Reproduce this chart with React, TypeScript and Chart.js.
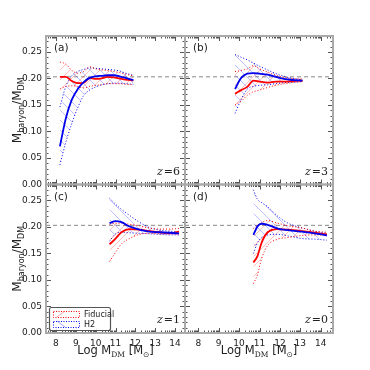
import { useEffect, useRef } from "react";
import { Chart, registerables } from "chart.js";
Chart.register(...registerables);

// ---------- data ----------
const BARYON_FRACTION = 0.203;
const LEGEND_LABELS = ["Fiducial", "H2"];
const X_TICKS = [8, 9, 10, 11, 12, 13, 14];
const Y_TICKS = [0, 0.05, 0.1, 0.15, 0.2, 0.25];

// panel (a) z=6
const A_X = [8.2, 8.5, 8.8, 9.1, 9.4, 9.7, 10.0, 10.3, 10.6, 10.9, 11.2, 11.5, 11.9];
const A_RED_MED = [0.203, 0.203, 0.195, 0.191, 0.192, 0.201, 0.199, 0.2, 0.203, 0.202, 0.2, 0.198, 0.196];
const A_RED_UP = [0.231, 0.227, 0.215, 0.21, 0.213, 0.222, 0.218, 0.216, 0.215, 0.213, 0.211, 0.208, 0.205];
const A_RED_LO = [0.18, 0.185, 0.186, 0.185, 0.182, 0.185, 0.187, 0.188, 0.19, 0.19, 0.19, 0.189, 0.188];
const A_BLUE_MED = [0.072, 0.125, 0.16, 0.18, 0.193, 0.201, 0.204, 0.205, 0.206, 0.206, 0.204, 0.201, 0.197];
const A_BLUE_UP = [0.146, 0.185, 0.205, 0.213, 0.217, 0.22, 0.219, 0.218, 0.217, 0.216, 0.214, 0.21, 0.206];
const A_BLUE_LO = [0.037, 0.08, 0.115, 0.145, 0.168, 0.178, 0.184, 0.188, 0.19, 0.191, 0.191, 0.19, 0.189];

// panel (b) z=3
const B_X = [9.8, 10.1, 10.4, 10.7, 11.0, 11.4, 11.8, 12.2, 12.6, 13.1];
const B_RED_MED = [0.171, 0.178, 0.184, 0.196, 0.194, 0.192, 0.194, 0.194, 0.195, 0.196];
const B_RED_UP = [0.213, 0.215, 0.218, 0.224, 0.218, 0.212, 0.206, 0.202, 0.2, 0.199];
const B_RED_LO = [0.15, 0.157, 0.168, 0.175, 0.178, 0.183, 0.187, 0.19, 0.192, 0.194];
const B_BLUE_MED = [0.18, 0.201, 0.209, 0.21, 0.209, 0.207, 0.203, 0.199, 0.197, 0.196];
const B_BLUE_UP = [0.245, 0.24, 0.235, 0.229, 0.223, 0.216, 0.209, 0.204, 0.2, 0.197];
const B_BLUE_LO = [0.134, 0.16, 0.18, 0.185, 0.187, 0.188, 0.19, 0.192, 0.193, 0.194];

// panel (c) z=1
const C_X = [10.7, 11.0, 11.3, 11.7, 12.2, 12.7, 13.2, 13.7, 14.2];
const C_RED_MED = [0.167, 0.178, 0.19, 0.196, 0.195, 0.192, 0.19, 0.188, 0.191];
const C_RED_UP = [0.205, 0.207, 0.207, 0.205, 0.202, 0.198, 0.196, 0.196, 0.197];
const C_RED_LO = [0.135, 0.152, 0.168, 0.178, 0.186, 0.188, 0.187, 0.187, 0.186];
const C_BLUE_MED = [0.207, 0.211, 0.209, 0.201, 0.195, 0.191, 0.19, 0.189, 0.188];
const C_BLUE_UP = [0.254, 0.243, 0.233, 0.222, 0.209, 0.199, 0.194, 0.192, 0.191];
const C_BLUE_LO = [0.173, 0.187, 0.19, 0.189, 0.188, 0.187, 0.186, 0.185, 0.185];

// panel (d) z=0
const D_X = [10.7, 10.9, 11.1, 11.4, 11.9, 12.4, 13.1, 13.7, 14.3];
const D_RED_MED = [0.133, 0.145, 0.17, 0.19, 0.196, 0.195, 0.192, 0.189, 0.186];
const D_RED_UP = [0.197, 0.203, 0.208, 0.212, 0.207, 0.202, 0.198, 0.192, 0.19];
const D_RED_LO = [0.093, 0.11, 0.14, 0.165, 0.177, 0.18, 0.184, 0.185, 0.185];
const D_BLUE_MED = [0.185, 0.201, 0.206, 0.204, 0.197, 0.194, 0.191, 0.188, 0.184];
const D_BLUE_UP = [0.27, 0.252, 0.246, 0.238, 0.22, 0.207, 0.198, 0.192, 0.188];
const D_BLUE_LO = [0.15, 0.17, 0.18, 0.185, 0.186, 0.183, 0.178, 0.177, 0.175];

// ---------- layout / style ----------
const RED = "#ff0000";
const BLUE = "#0000ee";
const FRAME = "#aaaaaa";
const TICK = "#555555";
const TEXT = "#222222";
const FONT = "'DejaVu Sans', sans-serif";

type Panel = {
  id: string;
  label: string;
  z: string;
  xs: number[];
  redMed: number[]; redUp: number[]; redLo: number[];
  blueMed: number[]; blueUp: number[]; blueLo: number[];
  rect: { l: number; r: number; t: number; b: number };
  xr: [number, number];
  showX: boolean;
  showY: boolean;
  legend: boolean;
};

const LEFT = { l: 46, r: 185 };
const RIGHT = { l: 185, r: 333 };
const TOP = { t: 36, b: 184.5 };
const BOT = { t: 184.5, b: 333 };

const PANELS: Panel[] = [
  { id: "a", label: "(a)", z: "6", xs: A_X, redMed: A_RED_MED, redUp: A_RED_UP, redLo: A_RED_LO, blueMed: A_BLUE_MED, blueUp: A_BLUE_UP, blueLo: A_BLUE_LO, rect: { ...LEFT, ...TOP }, xr: [7.5, 14.5], showX: false, showY: true, legend: false },
  { id: "b", label: "(b)", z: "3", xs: B_X, redMed: B_RED_MED, redUp: B_RED_UP, redLo: B_RED_LO, blueMed: B_BLUE_MED, blueUp: B_BLUE_UP, blueLo: B_BLUE_LO, rect: { ...RIGHT, ...TOP }, xr: [7.35, 14.6], showX: false, showY: false, legend: false },
  { id: "c", label: "(c)", z: "1", xs: C_X, redMed: C_RED_MED, redUp: C_RED_UP, redLo: C_RED_LO, blueMed: C_BLUE_MED, blueUp: C_BLUE_UP, blueLo: C_BLUE_LO, rect: { ...LEFT, ...BOT }, xr: [7.5, 14.5], showX: true, showY: true, legend: true },
  { id: "d", label: "(d)", z: "0", xs: D_X, redMed: D_RED_MED, redUp: D_RED_UP, redLo: D_RED_LO, blueMed: D_BLUE_MED, blueUp: D_BLUE_UP, blueLo: D_BLUE_LO, rect: { ...RIGHT, ...BOT }, xr: [7.35, 14.6], showX: true, showY: false, legend: false },
];

const Y_AXIS_W = 30;
const X_AXIS_H = 16;

function hatch(color: string, dir: "/" | "\\") {
  const s = 10;
  const c = document.createElement("canvas");
  c.width = s;
  c.height = s;
  const g = c.getContext("2d")!;
  g.strokeStyle = color;
  g.lineWidth = 1;
  g.beginPath();
  if (dir === "/") {
    g.moveTo(-1, s + 1); g.lineTo(s + 1, -1);
    g.moveTo(-2, 2); g.lineTo(2, -2);
    g.moveTo(s - 2, s + 2); g.lineTo(s + 2, s - 2);
  } else {
    g.moveTo(-1, -1); g.lineTo(s + 1, s + 1);
    g.moveTo(-2, s - 2); g.lineTo(2, s + 2);
    g.moveTo(s - 2, -2); g.lineTo(s + 2, 2);
  }
  g.stroke();
  return g.createPattern(c, "repeat")!;
}

function pts(xs: number[], ys: number[]) {
  return xs.map((x, i) => ({ x, y: ys[i] }));
}

function drawSubText(ctx: CanvasRenderingContext2D, parts: { t: string; sub?: boolean; font?: string }[], big: number, small: number) {
  let w = 0;
  for (const p of parts) {
    ctx.font = p.font ?? `${p.sub ? small : big}px ${FONT}`;
    w += ctx.measureText(p.t).width;
  }
  let x = -w / 2;
  for (const p of parts) {
    ctx.font = p.font ?? `${p.sub ? small : big}px ${FONT}`;
    ctx.fillText(p.t, x, p.sub ? 2.5 : 0);
    x += ctx.measureText(p.t).width;
  }
}

function makePlugin(p: Panel) {
  return {
    id: "decor" + p.id,
    afterDraw(chart: any) {
      const { ctx, chartArea: a } = chart;
      const xs = chart.scales.x;
      const ys = chart.scales.y;
      ctx.save();
      // ticks (inward, all sides)
      ctx.strokeStyle = TICK;
      ctx.lineWidth = 1;
      ctx.beginPath();
      const xMinor: number[] = [];
      for (let n = 7; n <= 14; n++) for (let k = 2; k <= 9; k++) xMinor.push(n + Math.log10(k));
      const xtick = (v: number, len: number) => {
        if (v <= p.xr[0] || v >= p.xr[1]) return;
        const px = Math.round(xs.getPixelForValue(v)) + 0.5;
        ctx.moveTo(px, a.bottom); ctx.lineTo(px, a.bottom - len);
        ctx.moveTo(px, a.top); ctx.lineTo(px, a.top + len);
      };
      X_TICKS.forEach((v) => xtick(v, 5));
      xMinor.forEach((v) => xtick(v, 2.5));
      const ytick = (v: number, len: number) => {
        if (v <= 0 || v >= 0.28) return;
        const py = Math.round(ys.getPixelForValue(v)) + 0.5;
        ctx.moveTo(a.left, py); ctx.lineTo(a.left + len, py);
        ctx.moveTo(a.right, py); ctx.lineTo(a.right - len, py);
      };
      Y_TICKS.forEach((v) => ytick(v, 5));
      for (let i = 1; i < 28; i++) if (i % 5 !== 0) ytick(i / 100, 2.5);
      ctx.stroke();

      // frame
      ctx.strokeStyle = FRAME;
      ctx.lineWidth = 2;
      ctx.strokeRect(a.left, a.top, a.right - a.left, a.bottom - a.top);

      // panel label
      ctx.fillStyle = TEXT;
      ctx.textBaseline = "alphabetic";
      ctx.textAlign = "left";
      ctx.font = `10.5px ${FONT}`;
      ctx.fillText(p.label, a.left + 8, a.top + 15);

      // redshift label
      ctx.font = `italic 11px 'DejaVu Serif', serif`;
      const zw = ctx.measureText("z").width;
      ctx.font = `11px 'DejaVu Serif', serif`;
      const rest = "=" + p.z;
      const rw = ctx.measureText(rest).width;
      const zx = a.right - 5 - rw - zw - 1;
      const zy = a.bottom - 10;
      ctx.font = `italic 11px 'DejaVu Serif', serif`;
      ctx.fillText("z", zx, zy);
      ctx.font = `11px 'DejaVu Serif', serif`;
      ctx.fillText(rest, zx + zw + 1, zy);

      // y title
      if (p.showY) {
        ctx.save();
        ctx.translate(21, (a.top + a.bottom) / 2);
        ctx.rotate(-Math.PI / 2);
        ctx.textAlign = "left";
        drawSubText(ctx, [{ t: "M" }, { t: "baryon", sub: true }, { t: "/M" }, { t: "DM", sub: true }], 12, 8);
        ctx.restore();
      }
      // x title
      if (p.showX) {
        ctx.save();
        ctx.translate((a.left + a.right) / 2, 354);
        ctx.textAlign = "left";
        drawSubText(ctx, [{ t: "Log M" }, { t: "DM", sub: true, font: `7.5px 'DejaVu Serif', serif` }, { t: " [M" }, { t: "\u2299", sub: true }, { t: "]" }], 11.5, 7.5);
        ctx.restore();
      }

      // legend
      if (p.legend) {
        const lx = a.left + 3;
        const ly = a.bottom - 26;
        const lw = 61;
        const lh = 23;
        ctx.fillStyle = "rgba(255,255,255,0.9)";
        ctx.strokeStyle = "#555";
        ctx.lineWidth = 1.2;
        ctx.beginPath();
        (ctx as any).roundRect(lx + 0.5, ly + 0.5, lw, lh, 2);
        ctx.fill();
        ctx.stroke();
        ctx.lineWidth = 1;
        const entries = [
          { label: LEGEND_LABELS[0], c: RED, h: "rgba(255,0,0,0.35)", dir: 1 },
          { label: LEGEND_LABELS[1], c: BLUE, h: "rgba(0,0,255,0.35)", dir: -1 },
        ];
        entries.forEach((e, i) => {
          const bx = lx + 4;
          const by = ly + 4 + i * 10;
          const bw = 26;
          const bh = 6;
          ctx.strokeStyle = e.h;
          ctx.beginPath();
          if (e.dir > 0) { ctx.moveTo(bx + 4, by + bh); ctx.lineTo(bx + 12, by); }
          else { ctx.moveTo(bx + 4, by); ctx.lineTo(bx + 12, by + bh); }
          ctx.stroke();
          ctx.strokeStyle = e.c;
          ctx.setLineDash([1, 1.5]);
          ctx.strokeRect(bx + 0.5, by + 0.5, bw, bh);
          ctx.setLineDash([]);
          ctx.fillStyle = TEXT;
          ctx.font = `8px ${FONT}`;
          ctx.textBaseline = "middle";
          ctx.fillText(e.label, bx + bw + 5, by + bh / 2 + 1);
        });
      }
      ctx.restore();
    },
  };
}

function PanelChart({ p }: { p: Panel }) {
  const ref = useRef<HTMLCanvasElement>(null);
  useEffect(() => {
    const redHatch = hatch("rgba(255,0,0,0.25)", "/");
    const blueHatch = hatch("rgba(0,0,255,0.25)", "\\");
    const dotted = { borderWidth: 1, borderDash: [1, 2], pointRadius: 0, cubicInterpolationMode: "monotone" as const };
    const chart = new Chart(ref.current!, {
      type: "line",
      data: {
        datasets: [
          { label: "H2 median", data: pts(p.xs, p.blueMed), borderColor: BLUE, borderWidth: 1.8, pointRadius: 0, cubicInterpolationMode: "monotone", fill: false },
          { label: "Fiducial median", data: pts(p.xs, p.redMed), borderColor: RED, borderWidth: 1.8, pointRadius: 0, cubicInterpolationMode: "monotone", fill: false },
          { label: "Fiducial upper", data: pts(p.xs, p.redUp), borderColor: RED, backgroundColor: redHatch, fill: "+1", ...dotted },
          { label: "Fiducial lower", data: pts(p.xs, p.redLo), borderColor: RED, fill: false, ...dotted },
          { label: "H2 upper", data: pts(p.xs, p.blueUp), borderColor: BLUE, backgroundColor: blueHatch, fill: "+1", ...dotted },
          { label: "H2 lower", data: pts(p.xs, p.blueLo), borderColor: BLUE, fill: false, ...dotted },
          { label: "baryon fraction", data: [{ x: p.xr[0], y: BARYON_FRACTION }, { x: p.xr[1], y: BARYON_FRACTION }], borderColor: "#888888", borderWidth: 1, borderDash: [4, 3], pointRadius: 0, fill: false },
        ],
      },
      options: {
        responsive: false,
        animation: false,
        events: [],
        layout: {
          padding: {
            left: p.rect.l - (p.showY ? Y_AXIS_W : 0),
            right: 370 - p.rect.r,
            top: p.rect.t,
            bottom: 370 - p.rect.b - (p.showX ? X_AXIS_H : 0),
          },
        },
        plugins: { legend: { display: false }, tooltip: { enabled: false } },
        scales: {
          x: {
            type: "linear",
            min: p.xr[0],
            max: p.xr[1],
            display: p.showX,
            grid: { display: false, drawTicks: false },
            border: { display: false },
            ticks: { padding: 5, color: TEXT, font: { family: "DejaVu Sans", size: 9 }, maxRotation: 0, autoSkip: false },
            afterBuildTicks: (s: any) => { s.ticks = X_TICKS.map((v) => ({ value: v })); },
            afterFit: (s: any) => { s.height = p.showX ? X_AXIS_H : 0; },
          },
          y: {
            type: "linear",
            min: 0,
            max: 0.28,
            display: p.showY,
            grid: { display: false, drawTicks: false },
            border: { display: false },
            ticks: { padding: 4, color: TEXT, font: { family: "DejaVu Sans", size: 9 }, callback: (v: any) => Number(v).toFixed(2) },
            afterBuildTicks: (s: any) => { s.ticks = Y_TICKS.map((v) => ({ value: v })); },
            afterFit: (s: any) => { s.width = p.showY ? Y_AXIS_W : 0; },
          },
        },
      },
      plugins: [makePlugin(p)],
    } as any);
    return () => chart.destroy();
  }, []);
  return (
    <canvas
      ref={ref}
      width={370}
      height={370}
      style={{ position: "absolute", left: 0, top: 0, width: 370, height: 370 }}
    />
  );
}

export default function App() {
  return (
    <div style={{ position: "fixed", left: 0, top: 0, width: 370, height: 370, background: "#ffffff", overflow: "hidden" }}>
      {PANELS.map((p) => (
        <PanelChart key={p.id} p={p} />
      ))}
    </div>
  );
}
